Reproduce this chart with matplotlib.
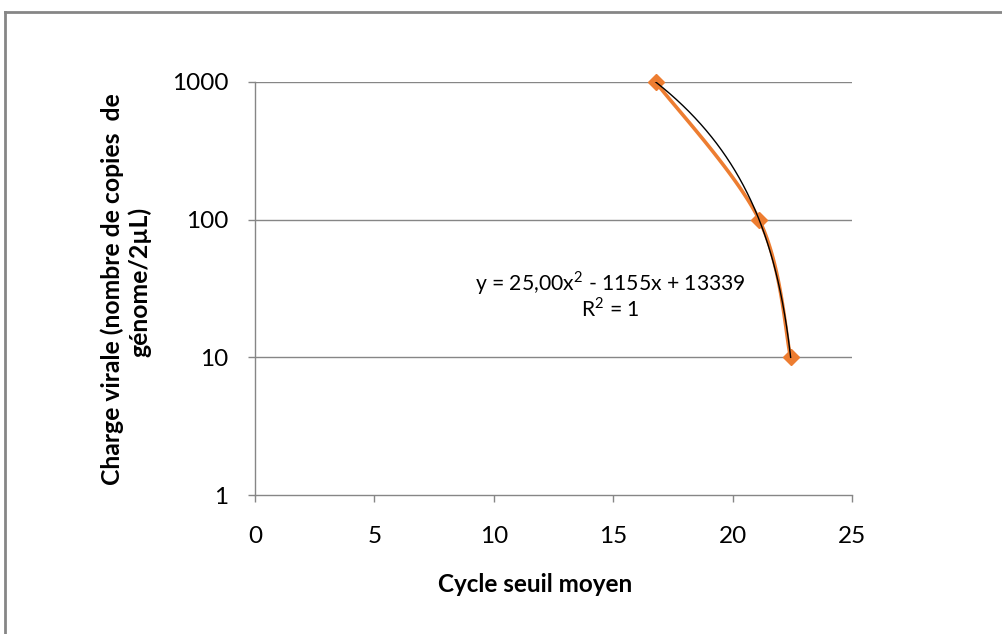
import numpy as np
import matplotlib
matplotlib.use("Agg")
import matplotlib.pyplot as plt
from matplotlib.lines import Line2D

# Data
cycles = [16.78, 21.11, 22.43]
charge = [1000, 100, 10]
x_ticks = [0, 5, 10, 15, 20, 25]
y_ticks = [1, 10, 100, 1000]
y_ticklabels = ["1", "10", "100", "1000"]
equation_text = "y = 25,00x$^{2}$ - 1155x + 13339"
r2_text = "R$^{2}$ = 1"
xlabel = "Cycle seuil moyen"
ylabel_l1 = "Charge virale (nombre de copies  de"
ylabel_l2 = "génome/2µL)"

plt.rcParams['font.family'] = ['Lato', 'DejaVu Sans']
plt.rcParams['mathtext.fontset'] = 'custom'
plt.rcParams['mathtext.rm'] = 'Lato'

W, H = 1003, 634
fig = plt.figure(figsize=(W/100, H/100), dpi=100)
ax = fig.add_axes([255/W, 1-495/H, 597/W, 413/H])

grey = '#868686'
orange = '#ED7D31'

ax.set_yscale('log')
ax.set_xlim(0, 25)
ax.set_ylim(1, 1000)

# gridlines
for v in y_ticks[1:]:
    ax.axhline(v, color=grey, lw=1.0, zorder=0)

# smoothed orange line (Catmull-Rom in display-like space)
X = np.array(cycles, float)
Y = np.log10(np.array(charge, float))
sx, sy = 597/25, 413/3
P = np.column_stack([X*sx, Y*sy])
Pp = np.vstack([P[0], P, P[-1]])
pts = []
for i in range(1, len(Pp)-2):
    p0, p1, p2, p3 = Pp[i-1], Pp[i], Pp[i+1], Pp[i+2]
    t = np.linspace(0, 1, 60)[:, None]
    c1 = p1 + (p2 - p0)/6
    c2 = p2 - (p3 - p1)/6
    b = (1-t)**3*p1 + 3*(1-t)**2*t*c1 + 3*(1-t)*t**2*c2 + t**3*p2
    pts.append(b)
pts = np.vstack(pts)
ax.plot(pts[:, 0]/sx, 10**(pts[:, 1]/sy), color=orange, lw=2.6, zorder=3,
        solid_capstyle='round')
ax.plot(cycles, charge, ls='none', marker='D', ms=8.5, color=orange,
        mec=orange, zorder=4, clip_on=False)

# polynomial trendline
coef = np.polyfit(cycles, charge, 2)
xx = np.linspace(min(cycles), max(cycles), 300)
ax.plot(xx, np.polyval(coef, xx), color='black', lw=1.0, zorder=5)

# axes styling
for s in ['top', 'right']:
    ax.spines[s].set_visible(False)
for s in ['left', 'bottom']:
    ax.spines[s].set_color(grey)
    ax.spines[s].set_linewidth(1.0)
ax.set_xticks(x_ticks)
ax.set_yticks(y_ticks)
ax.set_yticklabels(y_ticklabels)
ax.yaxis.set_minor_locator(matplotlib.ticker.NullLocator())
ax.tick_params(axis='both', colors=grey, length=5, width=1.0, direction='out',
               labelcolor='black', labelsize=17.5)
ax.tick_params(axis='x', pad=17)
ax.tick_params(axis='y', pad=14)

# equation annotation
fig.text(610/W, 1-283/H, equation_text, ha='center', va='center', fontsize=15.2)
fig.text(610/W, 1-309/H, r2_text, ha='center', va='center', fontsize=15.2)

# labels
fig.text(535/W, 1-584/H, xlabel, ha='center', va='center', fontsize=17.5,
         fontweight='bold')
fig.text(120/W, 1-289/H, ylabel_l1, ha='center', va='baseline', fontsize=17.8,
         fontweight='bold', rotation=90, rotation_mode='anchor')
fig.text(147/W, 1-282/H, ylabel_l2, ha='center', va='baseline', fontsize=17.8,
         fontweight='bold', rotation=90, rotation_mode='anchor')

# chart border (top and left visible)
fig.add_artist(Line2D([4.5/W, 4.5/W], [0, 1-11.5/H], color=grey, lw=2.0,
                      transform=fig.transFigure))
fig.add_artist(Line2D([4.5/W, 1], [1-11.5/H, 1-11.5/H], color=grey, lw=2.0,
                      transform=fig.transFigure))

fig.savefig('out.png', dpi=100, facecolor='white')
